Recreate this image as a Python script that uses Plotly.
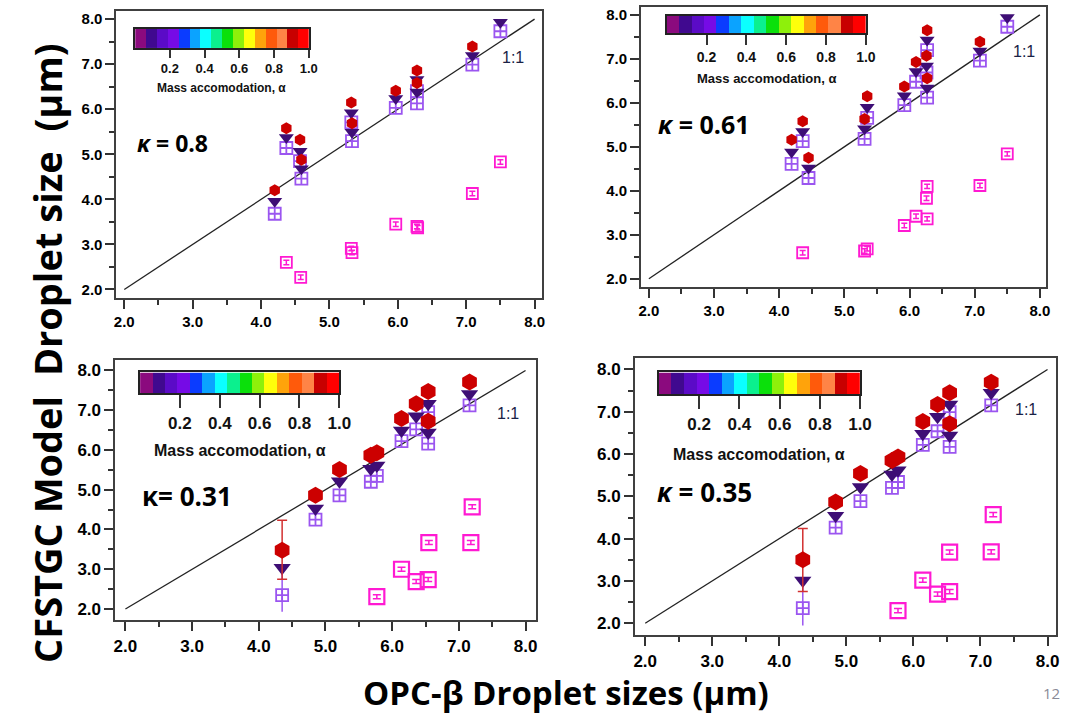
import plotly.graph_objects as go

W, H = 1086, 715

# ---------------- data ----------------
# Panel 1 : kappa = 0.8
p1_x = [4.20, 4.37, 4.57, 4.59, 5.32, 5.33, 5.97, 6.28, 6.28, 7.09, 7.50]
p1_red = [4.20, 5.58, 5.32, 4.88, 6.15, 5.69, 6.41, 6.86, 6.58, 7.39, None]
p1_tri = [3.96, 5.37, 5.07, 4.68, 5.92, 5.49, 6.24, 6.66, 6.38, 7.19, 7.93]
p1_sq = [3.68, 5.14, 4.85, 4.46, 5.71, 5.29, 6.03, 6.40, 6.13, 6.99, 7.73]
p1_mag_x = [4.37, 4.58, 5.32, 5.33, 5.97, 6.28, 6.29, 7.09, 7.50]
p1_mag_y = [2.60, 2.27, 2.91, 2.82, 3.45, 3.40, 3.37, 4.13, 4.83]

# Panel 2 : kappa = 0.61
p2_x = [4.19, 4.36, 4.45, 5.31, 5.35, 5.92, 6.10, 6.26, 6.27, 6.27, 7.08, 7.50]
p2_red = [5.16, 5.58, 4.75, 5.63, 6.15, 6.37, 6.93, 7.07, 7.65, 6.56, 7.39, None]
p2_tri = [4.88, 5.35, 4.52, 5.41, 5.90, 6.16, 6.71, 6.84, 7.43, 6.34, 7.18, 7.94]
p2_sq = [4.61, 5.13, 4.29, 5.18, 5.66, 5.95, 6.48, 6.69, 7.20, 6.12, 6.96, 7.73]
p2_mag_x = [4.36, 5.31, 5.35, 5.92, 6.10, 6.26, 6.27, 6.27, 7.08, 7.50]
p2_mag_y = [2.59, 2.63, 2.68, 3.21, 3.42, 3.83, 4.10, 3.36, 4.12, 4.84]

# Panel 3 : kappa = 0.31
p3_x = [4.35, 4.85, 5.21, 5.68, 5.77, 6.14, 6.36, 6.54, 6.54, 7.16]
p3_red = [3.48, 4.86, 5.51, 5.87, 5.93, 6.79, 7.16, 7.47, 6.72, 7.71]
p3_tri = [3.04, 4.53, 5.21, 5.53, 5.61, 6.49, 6.85, 7.16, 6.44, 7.41]
p3_sq = [2.35, 4.25, 4.86, 5.20, 5.35, 6.22, 6.52, 6.95, 6.16, 7.12]
p3_red_err_up = [0.75, 0, 0, 0, 0, 0, 0, 0, 0, 0]
p3_red_err_dn = [0.73, 0, 0, 0, 0, 0, 0, 0, 0, 0]
p3_sq_err_up = [0.67, 0, 0, 0, 0, 0, 0, 0, 0, 0]
p3_sq_err_dn = [0.42, 0, 0, 0, 0, 0, 0, 0, 0, 0]
p3_mag_x = [5.77, 6.14, 6.36, 6.54, 6.55, 7.18, 7.20]
p3_mag_y = [2.31, 3.00, 2.69, 2.74, 3.67, 3.67, 4.57]

# Panel 4 : kappa = 0.35
p4_x = [4.35, 4.84, 5.21, 5.68, 5.77, 6.14, 6.36, 6.54, 6.54, 7.16]
p4_red = [3.50, 4.87, 5.54, 5.85, 5.93, 6.77, 7.17, 7.45, 6.72, 7.70]
p4_tri = [3.01, 4.54, 5.22, 5.52, 5.62, 6.48, 6.88, 7.17, 6.44, 7.45]
p4_sq = [2.36, 4.26, 4.89, 5.20, 5.34, 6.22, 6.54, 6.99, 6.17, 7.15]
p4_red_err_up = [0.74, 0, 0, 0, 0, 0, 0, 0, 0, 0]
p4_red_err_dn = [0.75, 0, 0, 0, 0, 0, 0, 0, 0, 0]
p4_sq_err_up = [0.63, 0, 0, 0, 0, 0, 0, 0, 0, 0]
p4_sq_err_dn = [0.41, 0, 0, 0, 0, 0, 0, 0, 0, 0]
p4_mag_x = [5.77, 6.14, 6.36, 6.54, 6.54, 7.16, 7.19]
p4_mag_y = [2.30, 3.02, 2.69, 2.75, 3.68, 3.69, 4.57]

one_to_one = [2.0, 8.0]
axis_ticks = [2.0, 3.0, 4.0, 5.0, 6.0, 7.0, 8.0]
alpha_ticks = [0.2, 0.4, 0.6, 0.8, 1.0]
alpha_colors = ["#8B0A7E", "#40098F", "#5B0BC7", "#760BE6", "#0B3CFF", "#0BA3FF",
                "#0BFFFF", "#0BF08E", "#0BE00B", "#8EF00B", "#FFFF0B", "#FFA30B",
                "#FF5A0B", "#FF8446", "#C80000", "#FF0000"]
kappa_labels = ["<i>κ</i> = 0.8", "<i>κ</i> = 0.61", "κ= 0.31", "<i>κ</i> = 0.35"]

RED = "#CC0000"
TRI = "#3E0E75"
SQ = "#9B55F0"
MAG = "#FF19D2"


def px_x(p):
    return p / W


def px_y(p):
    return 1 - p / H


# panel geometry (pixels): frame left, right, top, bottom ; ranges
panels = [
    dict(fx=(115, 547), fy=(10, 297), xr=(1.885, 8.115), yr=(1.82, 8.18), tf=15, big=False,
         cb=(134, 310, 28, 47), cbfont=13, cbtl=8, cbtitle_y=87, cbtitle_f=12,
         kx=172, ky=142, kf=23, ox=517, oy=57),
    dict(fx=(647, 1058), fy=(6, 286), xr=(1.88, 8.10), yr=(1.82, 8.18), tf=15, big=False,
         cb=(673, 875, 15, 32), cbfont=14, cbtl=10, cbtitle_y=78, cbtitle_f=13,
         kx=711, ky=123, kf=25, ox=1035, oy=51),
    dict(fx=(114, 540), fy=(360, 620), xr=(1.85, 8.15), yr=(1.72, 8.25), tf=17, big=True,
         cb=(139, 341, 372, 393), cbfont=17, cbtl=13, cbtitle_y=450, cbtitle_f=16,
         kx=187, ky=496, kf=26, ox=512, oy=413),
    dict(fx=(641, 1068), fy=(358, 635), xr=(1.85, 8.13), yr=(1.72, 8.26), tf=17, big=True,
         cb=(665, 869, 372, 394), cbfont=17, cbtl=13, cbtitle_y=454, cbtitle_f=16,
         kx=711, ky=492, kf=26, ox=1037, oy=409),
]

data = [
    (p1_x, p1_red, p1_tri, p1_sq, p1_mag_x, p1_mag_y, None),
    (p2_x, p2_red, p2_tri, p2_sq, p2_mag_x, p2_mag_y, None),
    (p3_x, p3_red, p3_tri, p3_sq, p3_mag_x, p3_mag_y,
     (p3_red_err_up, p3_red_err_dn, p3_sq_err_up, p3_sq_err_dn)),
    (p4_x, p4_red, p4_tri, p4_sq, p4_mag_x, p4_mag_y,
     (p4_red_err_up, p4_red_err_dn, p4_sq_err_up, p4_sq_err_dn)),
]

fig = go.Figure()
layout = {}
annotations = []

for i, (pn, d) in enumerate(zip(panels, data)):
    k = i + 1
    xa = "x" if k == 1 else f"x{k}"
    ya = "y" if k == 1 else f"y{k}"
    xs, red, tri, sq, mx, my, errs = d
    big = pn["big"]
    # 1:1 line
    fig.add_trace(go.Scatter(x=one_to_one, y=one_to_one, mode="lines",
                             line=dict(color="#222222", width=1.3),
                             xaxis=xa, yaxis=ya, showlegend=False, hoverinfo="skip"))
    # magenta squares
    fig.add_trace(go.Scatter(x=mx, y=my, mode="markers",
                             marker=dict(symbol="square-open", size=15 if big else 11,
                                         color=MAG, line=dict(width=2.2 if big else 1.8, color=MAG)),
                             error_y=dict(type="constant", value=0.05, color=MAG,
                                          thickness=1.5, width=4 if big else 3),
                             xaxis=xa, yaxis=ya, showlegend=False))
    # purple squares
    sq_err = None
    if errs is not None:
        sq_err = dict(type="data", symmetric=False, array=errs[2], arrayminus=errs[3],
                      color=SQ, thickness=1.5, width=0)
    fig.add_trace(go.Scatter(x=xs, y=sq, mode="markers",
                             marker=dict(symbol="square-cross-open", size=12,
                                         color=SQ, line=dict(width=1.8, color=SQ)),
                             error_y=sq_err,
                             xaxis=xa, yaxis=ya, showlegend=False))
    # triangles
    fig.add_trace(go.Scatter(x=xs, y=tri, mode="markers",
                             marker=dict(symbol="triangle-down", size=15 if big else 13,
                                         color=TRI, line=dict(width=0)),
                             xaxis=xa, yaxis=ya, showlegend=False))
    # red hexagons
    red_err = None
    if errs is not None:
        red_err = dict(type="data", symmetric=False, array=errs[0], arrayminus=errs[1],
                       color="#D23030", thickness=1.5, width=5)
    fig.add_trace(go.Scatter(x=xs, y=red, mode="markers",
                             marker=dict(symbol="hexagon", size=17 if big else 12,
                                         color=RED, line=dict(width=0)),
                             error_y=red_err,
                             xaxis=xa, yaxis=ya, showlegend=False))

    tickfont = dict(family="Liberation Sans", size=pn["tf"], color="black", weight="bold")
    common = dict(tickmode="array", tickvals=axis_ticks, ticktext=[f"{v:.1f}" for v in axis_ticks],
                  ticks="outside", ticklen=9, tickwidth=2, tickcolor="#333333",
                  showline=True, mirror=True, linecolor="#404040", linewidth=2,
                  showgrid=False, zeroline=False, tickfont=tickfont,
                  minor=dict(ticks="outside", ticklen=5, tickwidth=1.5, tickcolor="#333333",
                             tickmode="linear", tick0=2.5, dtick=1.0, showgrid=False))
    layout["xaxis" if k == 1 else f"xaxis{k}"] = dict(
        domain=[px_x(pn["fx"][0]), px_x(pn["fx"][1])], range=list(pn["xr"]),
        anchor=ya, **common)
    layout["yaxis" if k == 1 else f"yaxis{k}"] = dict(
        domain=[px_y(pn["fy"][1]), px_y(pn["fy"][0])], range=list(pn["yr"]),
        anchor=xa, **common)

    # colour bar (alpha scale) as heatmap on inset axes
    kc = k + 4
    cxa, cya = f"x{kc}", f"y{kc}"
    n = len(alpha_colors)
    cscale = []
    for j, c in enumerate(alpha_colors):
        cscale.append([j / n, c])
        cscale.append([(j + 1) / n, c])
    fig.add_trace(go.Heatmap(x=[(j + 0.5) / n for j in range(n)], y=[0],
                             z=[[(j + 0.5) / n for j in range(n)]],
                             zmin=0, zmax=1, colorscale=cscale, showscale=False,
                             xaxis=cxa, yaxis=cya, hoverinfo="skip"))
    l, r, t, b = pn["cb"]
    layout[f"xaxis{kc}"] = dict(
        domain=[px_x(l), px_x(r)], range=[0, 1], anchor=cya,
        tickmode="array", tickvals=alpha_ticks, ticktext=[f"{v:.1f}" for v in alpha_ticks],
        ticks="outside", ticklen=pn["cbtl"], tickwidth=2, tickcolor="#333333",
        showline=True, mirror=True, linecolor="#222222", linewidth=1.5,
        showgrid=False, zeroline=False,
        tickfont=dict(family="Liberation Sans", size=pn["cbfont"], color="#111111", weight="bold"))
    layout[f"yaxis{kc}"] = dict(
        domain=[px_y(b), px_y(t)], range=[-0.5, 0.5], anchor=cxa,
        showticklabels=False, ticks="", showline=True, mirror=True,
        linecolor="#222222", linewidth=1.5, showgrid=False, zeroline=False)
    annotations.append(dict(x=px_x((l + r) / 2), y=px_y(pn["cbtitle_y"]), xref="paper", yref="paper",
                            text="Mass accomodation, α", showarrow=False,
                            font=dict(family="Liberation Sans", size=pn["cbtitle_f"],
                                      color="#111111", weight="bold"),
                            xanchor="center", yanchor="middle"))
    # kappa label
    annotations.append(dict(x=px_x(pn["kx"]), y=px_y(pn["ky"]), xref="paper", yref="paper",
                            text=kappa_labels[i], showarrow=False,
                            font=dict(family="Open Sans", size=pn["kf"], color="black", weight="bold"),
                            xanchor="center", yanchor="middle"))
    # 1:1 label
    annotations.append(dict(x=px_x(pn["ox"]), y=px_y(pn["oy"]), xref="paper", yref="paper",
                            text="1:1", showarrow=False,
                            font=dict(family="Liberation Sans", size=16, color="#1A2246"),
                            xanchor="center", yanchor="middle"))

# global titles
annotations.append(dict(x=px_x(44), y=px_y(352), xref="paper", yref="paper",
                        text="CFSTGC Model\u00a0\u00a0Droplet size\u00a0\u00a0(μm)", textangle=-90,
                        showarrow=False,
                        font=dict(family="Open Sans", size=38, color="black", weight="bold"),
                        xanchor="center", yanchor="middle"))
annotations.append(dict(x=px_x(571), y=px_y(692), xref="paper", yref="paper",
                        text="OPC-β Droplet sizes (μm)", showarrow=False,
                        font=dict(family="Open Sans", size=33, color="black", weight="bold"),
                        xanchor="center", yanchor="middle"))
annotations.append(dict(x=px_x(1063), y=px_y(693), xref="paper", yref="paper",
                        text="12", showarrow=False,
                        font=dict(family="Open Sans", size=15, color="#8A8A96"),
                        xanchor="center", yanchor="middle"))

fig.update_layout(width=W, height=H, margin=dict(l=0, r=0, t=0, b=0),
                  paper_bgcolor="white", plot_bgcolor="white",
                  showlegend=False, annotations=annotations, **layout)

fig.write_html("out.html")
